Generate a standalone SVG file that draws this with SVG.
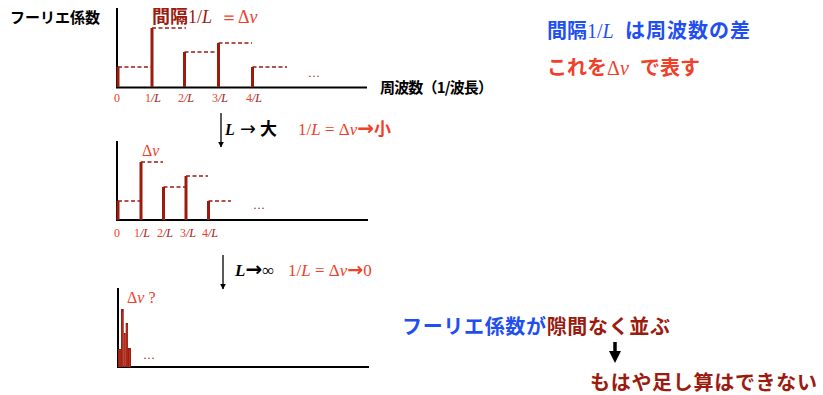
<svg xmlns="http://www.w3.org/2000/svg" width="823" height="395" viewBox="0 0 823 395">
<style>
.jp{font-family:"Noto Sans CJK JP","Noto Sans",sans-serif;font-weight:bold}
.sr{font-family:"Liberation Serif","DejaVu Serif",serif}
.ar{font-family:"DejaVu Sans",sans-serif}
.it{font-style:italic}
.ax{stroke:#000;stroke-width:2;fill:none}
.bar{stroke:#9b1b0f;stroke-width:3;fill:none}
.dash{stroke:#9b1b0f;stroke-width:1.5;stroke-dasharray:4 2.5;fill:none}
.red{fill:#f0402a}
.dred{fill:#9b1b0f}
.blue{fill:#1f4ff0}
.lbl{font-size:12px}
</style>
<defs>
<marker id="ah" viewBox="0 0 10 10" refX="9" refY="5" markerWidth="6" markerHeight="6" markerUnits="userSpaceOnUse" orient="auto">
<path d="M0,0 L10,5 L0,10 z" fill="#000"/>
</marker>
</defs>

<g id="title">
<text x="10" y="23" class="jp" font-size="15" fill="#000">フーリエ係数</text>
</g>

<g id="chart1">
<path class="ax" d="M117,8 V87.5 H367"/>
<path class="bar" d="M118,87 V67 M152,87 V28 M184.5,87 V52 M218.5,87 V43 M252.5,87 V67"/>
<path class="dash" d="M118,67 H151 M152,28 H186 M184.5,52 H217 M218.5,43 H252 M252.5,67 H287"/>
<text x="308" y="77" class="sr dred" font-size="12">…</text>
<g class="sr lbl">
<text x="114" y="102" class="red">0</text>
<text x="145" y="102"><tspan class="red">1</tspan><tspan class="it dred">/L</tspan></text>
<text x="178" y="102"><tspan class="red">2</tspan><tspan class="it dred">/L</tspan></text>
<text x="212" y="102"><tspan class="red">3</tspan><tspan class="it dred">/L</tspan></text>
<text x="246" y="102"><tspan class="red">4</tspan><tspan class="it dred">/L</tspan></text>
</g>
<text x="152" y="23" font-size="18"><tspan class="jp dred">間隔</tspan><tspan class="sr dred">1/</tspan><tspan class="sr it dred">L</tspan><tspan class="sr red" x="220">＝Δ</tspan><tspan class="sr it red">v</tspan></text>
<text x="380" y="93" class="jp" font-size="15" fill="#000" textLength="113" lengthAdjust="spacing">周波数（1/波長）</text>
</g>

<g id="note1">
<text y="38" font-size="20"><tspan x="547" class="jp blue">間隔</tspan><tspan class="sr blue">1/</tspan><tspan class="sr it blue">L</tspan><tspan x="625" class="jp blue" textLength="125">は周波数の差</tspan></text>
<text y="75" font-size="20"><tspan x="547" class="jp red" fill="#e8301c">これを</tspan><tspan class="sr red">Δ</tspan><tspan class="sr it red">v</tspan><tspan x="640" class="jp red">で表す</tspan></text>
</g>

<g id="step1">
<text x="225" y="135" font-size="16"><tspan class="sr it" font-weight="bold">L</tspan><tspan class="ar" x="240" font-size="19">→</tspan><tspan class="jp" x="260" font-size="17">大</tspan><tspan class="sr red" x="298" font-size="17">1/</tspan><tspan class="sr it red" font-size="17">L</tspan><tspan class="sr red" font-size="17"> = Δ</tspan><tspan class="sr it red" font-size="17">v</tspan><tspan class="ar red" font-weight="bold" font-size="20">→</tspan><tspan class="jp red" font-size="17">小</tspan></text>
</g>

<g id="chart2">
<path class="ax" d="M117,141 V220 H368"/>
<path class="bar" d="M118,220 V201 M141,220 V162 M163.5,220 V187 M186,220 V176 M208.5,220 V201"/>
<path class="dash" d="M118,201 H140 M141,162 H163 M163.5,187 H185 M186,176 H208 M208.5,201 H231"/>
<text x="253" y="209" class="sr dred" font-size="12">…</text>
<text x="142" y="156" class="sr red" font-size="16">Δ<tspan class="it">v</tspan></text>
<g class="sr lbl">
<text x="114" y="237" class="red">0</text>
<text x="134" y="237"><tspan class="red">1</tspan><tspan class="it dred">/L</tspan></text>
<text x="157" y="237"><tspan class="red">2</tspan><tspan class="it dred">/L</tspan></text>
<text x="180" y="237"><tspan class="red">3</tspan><tspan class="it dred">/L</tspan></text>
<text x="202" y="237"><tspan class="red">4</tspan><tspan class="it dred">/L</tspan></text>
</g>
</g>

<g id="step2">
<text x="235" y="276" font-size="17"><tspan class="sr it" font-weight="bold">L</tspan><tspan class="ar" font-weight="bold" font-size="20">→</tspan><tspan class="sr">∞</tspan><tspan class="sr red" x="288">1/</tspan><tspan class="sr it red">L</tspan><tspan class="sr red"> = Δ</tspan><tspan class="sr it red">v</tspan><tspan class="ar red" font-weight="bold" font-size="19">→</tspan><tspan class="sr red">0</tspan></text>
</g>

<g id="chart3">
<path class="ax" d="M118,288 V367 H369"/>
<g fill="#9b1b0f">
<rect x="118" y="349" width="3" height="18"/>
<rect x="121" y="309" width="2.7" height="58"/>
<rect x="123.7" y="333" width="2" height="34"/>
<rect x="125.7" y="323" width="2.3" height="44"/>
<rect x="128" y="348" width="3" height="19"/>
</g>
<path d="M120,350 V367 M122.3,312 V367 M124.7,335 V367 M127,325 V367 M129.5,350 V367" stroke="#d0452f" stroke-width="0.6"/>
<text x="127" y="303" class="sr red" font-size="16">Δ<tspan class="it">v</tspan> ?</text>
<text x="143" y="359" class="sr dred" font-size="12">…</text>
</g>

<g id="note2">
<text x="402" y="334" font-size="20" class="jp" textLength="268" lengthAdjust="spacing"><tspan class="blue">フーリエ係数が</tspan><tspan class="dred">隙間なく並ぶ</tspan></text>
</g>

<g id="note3">
<text x="590" y="390" font-size="20" class="jp dred" textLength="227" lengthAdjust="spacing">もはや足し算はできない</text>
</g>

<g id="connectors">
<line x1="221" y1="113" x2="221" y2="147" stroke="#000" stroke-width="1.3" marker-end="url(#ah)"/>
<line x1="223" y1="255" x2="223" y2="289" stroke="#000" stroke-width="1.3" marker-end="url(#ah)"/>
<line x1="615" y1="342" x2="615" y2="352" stroke="#000" stroke-width="3.5"/>
<path d="M609,351 L621,351 L615,363 z" fill="#000"/>
</g>
</svg>
